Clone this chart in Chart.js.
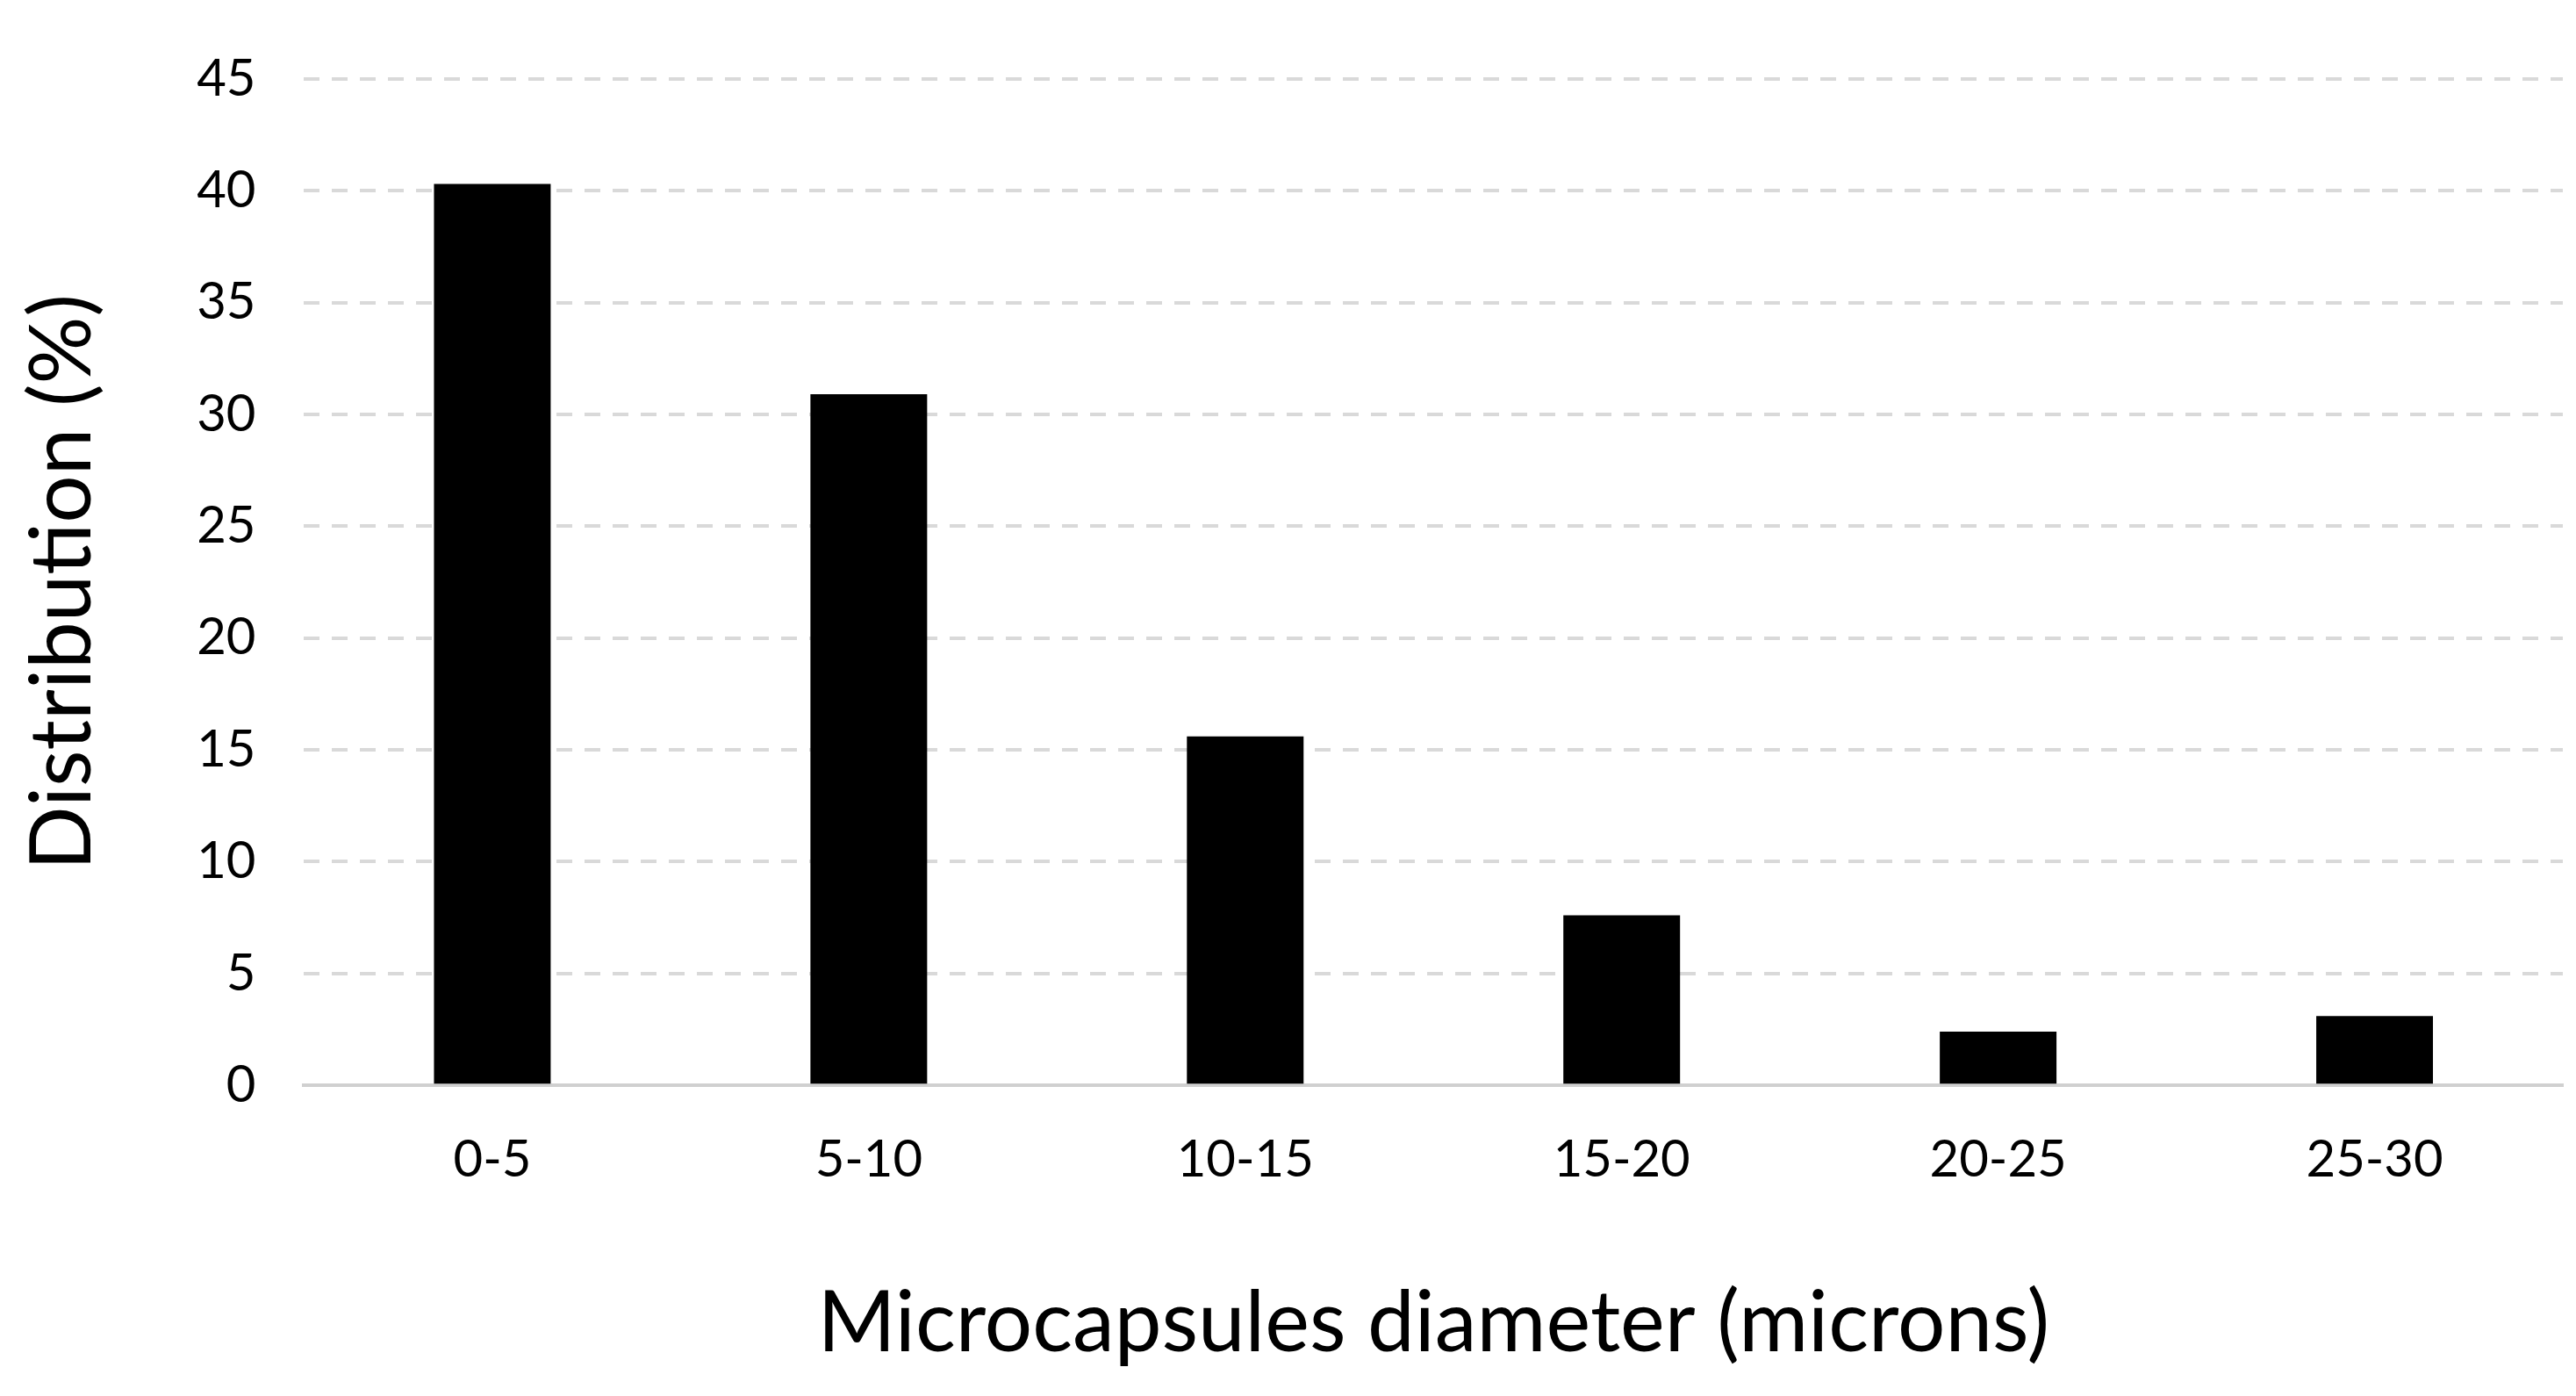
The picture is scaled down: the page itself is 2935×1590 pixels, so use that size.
<!DOCTYPE html>
<html><head><meta charset="utf-8">
<script src="https://cdn.jsdelivr.net/npm/chart.js@4/dist/chart.umd.min.js"></script>
<style>html,body{margin:0;padding:0;background:#fff}</style>
</head><body>
<canvas id="c" width="2935" height="1590"></canvas>
<script>
const categories = ["0-5","5-10","10-15","15-20","20-25","25-30"];
const distribution = [40.3, 30.9, 15.6, 7.6, 2.4, 3.1];
const yTicks = [0,5,10,15,20,25,30,35,40,45];
const font = "Lato, 'Open Sans', sans-serif";
new Chart(document.getElementById('c'), {
  type: 'bar',
  data: { labels: categories, datasets: [{ data: distribution, backgroundColor: '#000', barPercentage: 0.62, categoryPercentage: 0.5 }] },
  options: {
    responsive: false, devicePixelRatio: 1, animation: false,
    layout: { padding: { left: 10, right: 15, top: 25, bottom: 20 } },
    plugins: { legend: { display: false }, tooltip: { enabled: false } },
    scales: {
      x: {
        grid: { display: false, drawTicks: false },
        border: { display: true, color: '#d0d0d0', width: 4 },
        ticks: { color: '#000', font: { family: font, size: 58 }, padding: 50 },
        title: { display: true, text: 'Microcapsules diameter (microns)', color: '#000', font: { family: font, size: 96 }, padding: { top: 45 } }
      },
      y: {
        min: 0, max: 45, afterBuildTicks: a => { a.ticks = yTicks.map(v => ({ value: v })); },
        grid: { color: ctx => ctx.tick.value === 0 ? 'rgba(0,0,0,0)' : '#d9d9d9', lineWidth: 4, drawTicks: false },
        border: { display: false, dash: [18, 14] },
        ticks: { color: '#000', font: { family: font, size: 58 }, padding: 55 },
        title: { display: true, text: 'Distribution (%)', color: '#000', font: { family: font, size: 96 }, padding: { bottom: 40 } }
      }
    }
  }
});
</script>
</body></html>
